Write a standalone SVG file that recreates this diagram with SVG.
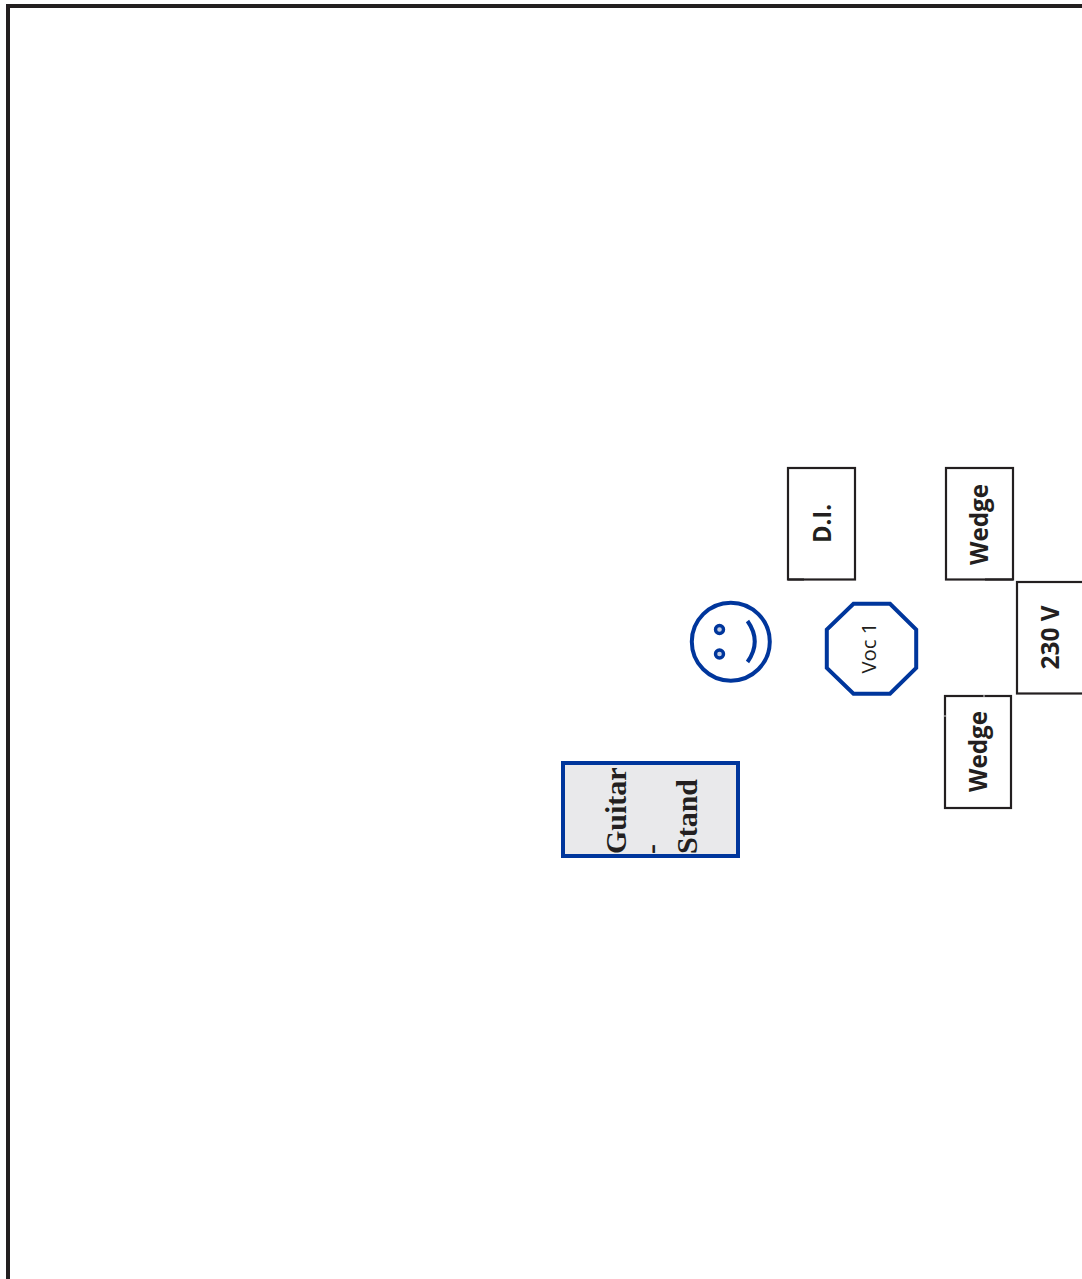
<svg xmlns="http://www.w3.org/2000/svg" width="1082" height="1279" viewBox="0 0 1082 1279">
<style>
.box{fill:#fff;stroke:#231f20;stroke-width:2.200}
.blue{fill:none;stroke:#00369c;stroke-width:4}
.lbl{font-family:"Open Sans","Liberation Sans",sans-serif;font-weight:700;font-size:25.500px;fill:#231f20}
.ser{font-family:"Liberation Serif",serif;font-weight:700;font-size:30px;fill:#231f20}
</style>
<rect width="1082" height="1279" fill="#fff"/>
<path id="frame" d="M8 1279V6H1082" fill="none" stroke="#231f20" stroke-width="4"/>
<g id="di"><rect class="box" x="788" y="468" width="67" height="111.500"/><path d="M788 579.500H804" stroke="#231f20" stroke-width="2" fill="none"/><text class="lbl" transform="translate(831 543) rotate(-90)" textLength="39" lengthAdjust="spacingAndGlyphs">D.I.</text></g>
<g id="wedge1"><rect class="box" x="946" y="468" width="67" height="111.500"/><path d="M985 579.500H1013" stroke="#231f20" stroke-width="2" fill="none"/><text class="lbl" transform="translate(988 565) rotate(-90)" textLength="81" lengthAdjust="spacingAndGlyphs">Wedge</text></g>
<g id="power"><rect class="box" x="1017" y="582" width="70" height="111.500"/><text class="lbl" transform="translate(1059 669.500) rotate(-90)" textLength="64" lengthAdjust="spacingAndGlyphs">230 V</text></g>
<g id="wedge2"><rect class="box" x="945" y="696" width="66" height="112"/><path d="M984 695v2M944 716h2" stroke="#d8d8d8" stroke-width="1" fill="none"/><text class="lbl" transform="translate(987 792) rotate(-90)" textLength="81" lengthAdjust="spacingAndGlyphs">Wedge</text></g>
<g id="voc1"><path class="blue" d="M853.500 603.700H890L916.200 629.500V668L890 693.800H853.500L826.800 668V629.500Z"/><text transform="translate(876 673.500) rotate(-90)" font-family="Open Sans,sans-serif" font-size="20.500" fill="#231f20" textLength="51" lengthAdjust="spacingAndGlyphs">Voc 1</text></g>
<g id="person"><circle class="blue" cx="730.800" cy="641.700" r="39"/><circle cx="719.500" cy="629.500" r="4" fill="#c5cfe4" stroke="#00369c" stroke-width="3.400"/><circle cx="719.500" cy="654" r="4" fill="#c5cfe4" stroke="#00369c" stroke-width="3.400"/><path class="blue" d="M747.500 621Q762 641.500 747.500 662"/></g>
<g id="guitar-stand"><rect x="563" y="763" width="175" height="93" fill="#e9e9eb" stroke="#00369c" stroke-width="4"/><text class="ser" transform="translate(626 854) rotate(-90)">Guitar</text><text class="ser" transform="translate(661 854) rotate(-90)">-</text><text class="ser" transform="translate(696.500 854) rotate(-90)">Stand</text></g>
<g id="connectors"></g>
</svg>
